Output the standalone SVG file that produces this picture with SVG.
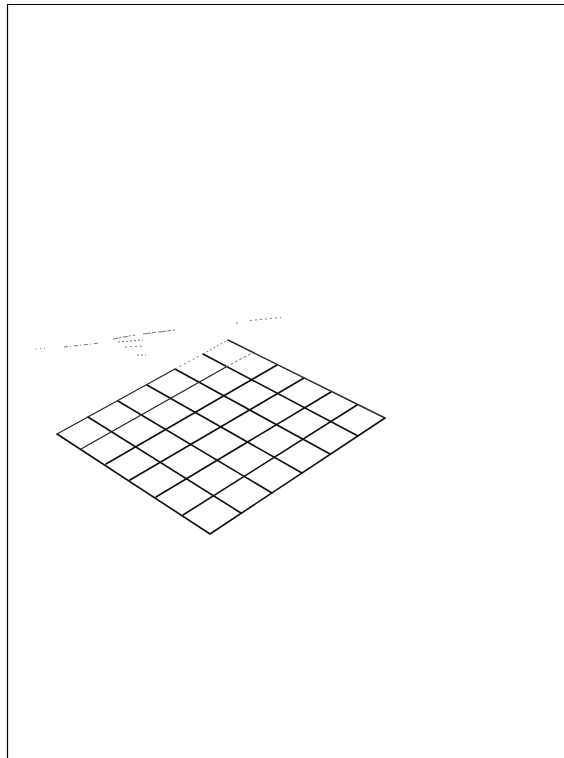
<svg xmlns="http://www.w3.org/2000/svg" width="564" height="758" viewBox="0 0 564 758">
<style>
.frame{fill:none;stroke:#000;stroke-width:1.2}
.grid{fill:none;stroke:#111;stroke-width:1.6;stroke-linecap:round;stroke-linejoin:round}
.thin{stroke:#2a2a2a;stroke-width:1.4}
.sp{fill:none;stroke:#777;stroke-width:1}
</style>
<defs><filter id="soft" x="-5%" y="-5%" width="110%" height="110%"><feGaussianBlur stdDeviation="0.35"/></filter></defs>
<rect width="564" height="758" fill="#fff"/>
<path class="frame" d="M7.500 758V4.500H564"/>
<g id="grid" filter="url(#soft)">
<path class="grid" d="M57 434L210 534L385 418"/>
<path class="grid" d="M88 417L241 513M118 401L272 493M147 385L302 473M175 369L330 454M203 354L358 436"/>
<path class="grid" d="M106 464L277 365M130 480L304 378M156 497L331 392M183 515L357 405"/>
<path class="grid thin" d="M228 340L385 418"/>
<path class="grid thin" d="M57 434L175 369"/>
<path class="grid thin" d="M81 449L226 367"/>
</g>
<g id="speckles">
<path class="sp" stroke-dasharray="2 3" d="M175 369L203 354"/>
<path class="sp" stroke-dasharray="2 2" d="M203 354L228 340"/>
<path class="sp" stroke-dasharray="3 2" d="M226 367L252 353"/>
<path class="sp" stroke-dasharray="1 3" d="M36 349L48 348"/>
<path class="sp" stroke-dasharray="4 2 1 3" d="M64 347L100 343"/>
<path class="sp" stroke-dasharray="5 1 2 2" d="M113 339L135 335"/>
<path class="sp" stroke="#444" stroke-dasharray="8 1 4 2" d="M143 334L175 330"/>
<path class="sp" stroke-dasharray="2 2" d="M118 342L143 340"/>
<path class="sp" stroke-dasharray="2 3" d="M125 347L145 346"/>
<path class="sp" stroke-dasharray="2 2" d="M137 355L146 355"/>
<path class="sp" stroke-dasharray="2 3" d="M250 320.500L281 317.500"/>
<path class="sp" d="M236 323H238"/>
</g>
</svg>
